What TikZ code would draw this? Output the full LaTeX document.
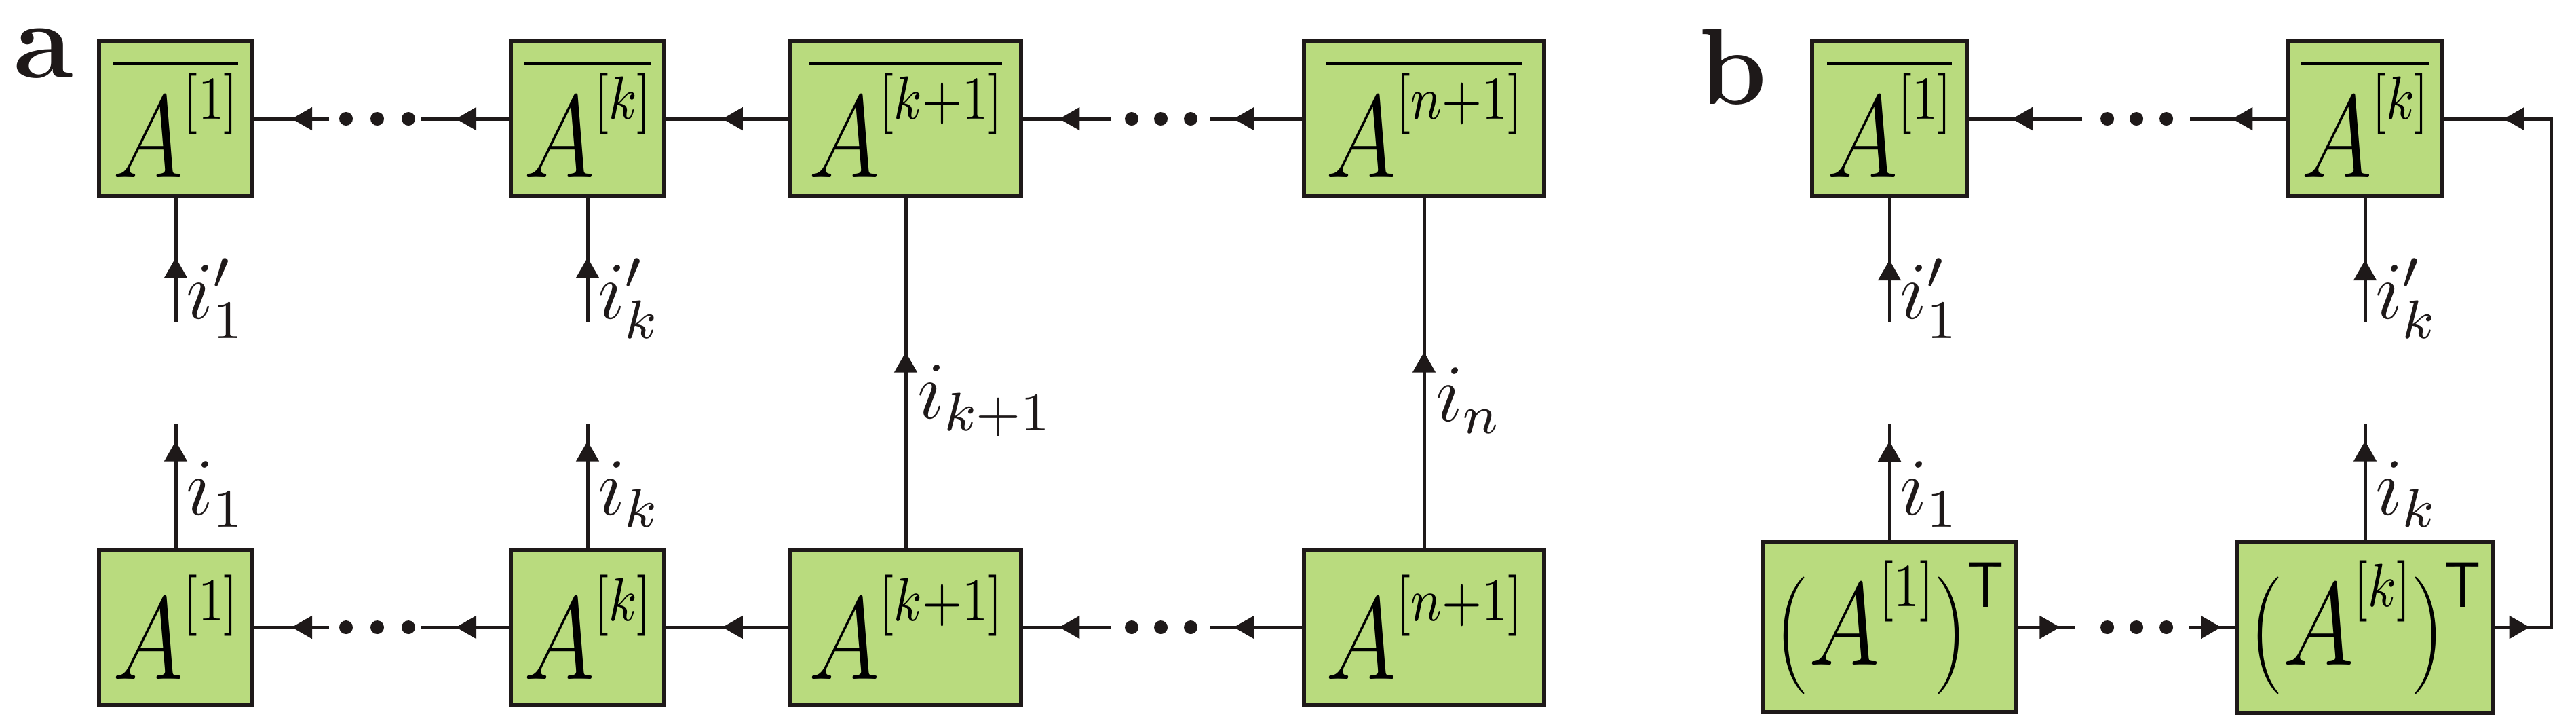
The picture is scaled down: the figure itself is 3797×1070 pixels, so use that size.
\documentclass[tikz,border=0pt]{standalone}
\usepackage{graphicx}
\usetikzlibrary{arrows.meta,decorations.markings}
\definecolor{boxgreen}{RGB}{185,219,126}
\definecolor{ink}{RGB}{30,25,25}
\newcommand\supbr[1]{\raisebox{8.6pt}{\fontsize{9.5}{11}\selectfont$[#1]$}}
\newcommand\myA[1]{\scalebox{0.82}[1]{$A\supbr{#1}$}}
\newcommand\myAbar[1]{$\overline{\mbox{\myA{#1}}}$}
\newcommand\myAT[1]{\scalebox{0.82}[1]{$(A\supbr{#1})\raisebox{8.5pt}{\fontsize{9.5}{11}\sffamily T}$}}
\begin{document}
\begin{tikzpicture}[x=0.1pt,y=-0.1pt,
  box/.style={draw=ink,fill=boxgreen,line width=0.6pt,inner sep=0pt,minimum height=22.8pt,font=\fontsize{16}{19}\selectfont},
  wire/.style={draw=ink,line width=0.5pt},
  ma/.style={postaction={decorate},decoration={markings,mark=at position #1 with {\arrow[ink]{Triangle[length=3pt,width=3.3pt]}}}},
  lab/.style={anchor=west,inner sep=0pt,font=\fontsize{11.5}{14}\selectfont,text=ink},
  dot/.style={circle,fill=ink,inner sep=0pt,minimum size=2pt},
  panel/.style={anchor=north west,inner sep=0pt,font=\fontsize{16}{19}\selectfont\bfseries,text=ink}]
\useasboundingbox (0,0) rectangle (3797,1070);
% panel a
\node[panel] (pa) at (18,40) {a};
\node[box,minimum width=22.6pt] (t1) at (259,175) {\myAbar{1}};
\node[box,minimum width=22.6pt] (tk) at (866,175) {\myAbar{k}};
\node[box,minimum width=34pt] (tk1) at (1335,175) {\myAbar{k{+}1}};
\node[box,minimum width=35.4pt] (tn) at (2099,175) {\myAbar{n{+}1}};
\node[box,minimum width=22.6pt] (b1) at (259,924) {\myA{1}};
\node[box,minimum width=22.6pt] (bk) at (866,924) {\myA{k}};
\node[box,minimum width=34pt] (bk1) at (1335,924) {\myA{k{+}1}};
\node[box,minimum width=35.4pt] (bn) at (2099,924) {\myA{n{+}1}};
% top row a
\coordinate (ta1) at (485,175); \coordinate (ta2) at (620,175);
\coordinate (ta3) at (1638,175); \coordinate (ta4) at (1783,175);
\draw[wire,ma=0.5] (ta1) -- (t1.east);
\draw[wire,ma=0.6] (tk.west) -- (ta2);
\draw[wire,ma=0.54] (tk1.west) -- (tk.east);
\draw[wire,ma=0.59] (ta3) -- (tk1.east);
\draw[wire,ma=0.74] (tn.west) -- (ta4);
\foreach \x/\n in {510/da1,556/da2,602/da3,1668/da4,1711/da5,1755/da6}{\node[dot] (\n) at (\x,175) {};}
% bottom row a
\coordinate (ba1) at (485,924); \coordinate (ba2) at (620,924);
\coordinate (ba3) at (1638,924); \coordinate (ba4) at (1783,924);
\draw[wire,ma=0.5] (ba1) -- (b1.east);
\draw[wire,ma=0.6] (bk.west) -- (ba2);
\draw[wire,ma=0.54] (bk1.west) -- (bk.east);
\draw[wire,ma=0.59] (ba3) -- (bk1.east);
\draw[wire,ma=0.74] (bn.west) -- (ba4);
\foreach \x/\n in {510/db1,556/db2,602/db3,1668/db4,1711/db5,1755/db6}{\node[dot] (\n) at (\x,924) {};}
% legs a
\coordinate (l1) at (259,474); \coordinate (lk) at (866,474);
\coordinate (m1) at (259,624); \coordinate (mk) at (866,624);
\draw[wire,ma=0.52] (l1) -- (t1.south);
\draw[wire,ma=0.52] (lk) -- (tk.south);
\draw[wire,ma=0.86] (b1.north) -- (m1);
\draw[wire,ma=0.86] (bk.north) -- (mk);
\draw[wire,ma=0.56] (bk1.north) -- (tk1.south);
\draw[wire,ma=0.56] (bn.north) -- (tn.south);
\node[lab] (li1) at (272,440) {$i'_1$};
\node[lab] (lik) at (879,440) {$i'_k$};
\node[lab] (lb1) at (272,728) {$i_1$};
\node[lab] (lbk) at (879,728) {$i_k$};
\node[lab] (lk1) at (1350,590) {$i_{k+1}$};
\node[lab] (lin) at (2114,590) {$i_n$};
% panel b
\node[panel] (pb) at (2502,40) {b};
\node[box,minimum width=22.9pt] (u1) at (2785,175) {\myAbar{1}};
\node[box,minimum width=22.7pt] (uk) at (3486,175) {\myAbar{k}};
\node[box,minimum width=37.4pt,minimum height=25pt] (v1) at (2785,924) {\myAT{1}};
\node[box,minimum width=37.7pt,minimum height=25.3pt] (vk) at (3486,924) {\myAT{k}};
\coordinate (tb1) at (3069,175); \coordinate (tb2) at (3228,175);
\draw[wire,ma=0.62] (tb1) -- (u1.east);
\draw[wire,ma=0.56] (uk.west) -- (tb2);
\foreach \x/\n in {3106/dc1,3149/dc2,3193/dc3}{\node[dot] (\n) at (\x,175) {};}
\coordinate (bb1) at (3058,924); \coordinate (bb2) at (3226,924);
\draw[wire,ma=0.74] (v1.east) -- (bb1);
\draw[wire,ma=0.7] (bb2) -- (vk.west);
\foreach \x/\n in {3106/dd1,3149/dd2,3193/dd3}{\node[dot] (\n) at (\x,924) {};}
\coordinate (c1) at (3760,924); \coordinate (c2) at (3760,175);
\draw[wire,line join=miter] (vk.east) -- (c1) -- (c2) -- (uk.east);
\draw[wire,ma=0.62] (vk.east) -- (c1);
\draw[wire,ma=0.44] (c2) -- (uk.east);
\coordinate (n1) at (2785,474); \coordinate (nk) at (3486,474);
\coordinate (o1) at (2785,624); \coordinate (ok) at (3486,624);
\draw[wire,ma=0.5] (n1) -- (u1.south);
\draw[wire,ma=0.5] (nk) -- (uk.south);
\draw[wire,ma=0.85] (v1.north) -- (o1);
\draw[wire,ma=0.85] (vk.north) -- (ok);
\node[lab] (lu1) at (2798,440) {$i'_1$};
\node[lab] (luk) at (3499,440) {$i'_k$};
\node[lab] (lv1) at (2798,728) {$i_1$};
\node[lab] (lvk) at (3499,728) {$i_k$};
\end{tikzpicture}
\end{document}
